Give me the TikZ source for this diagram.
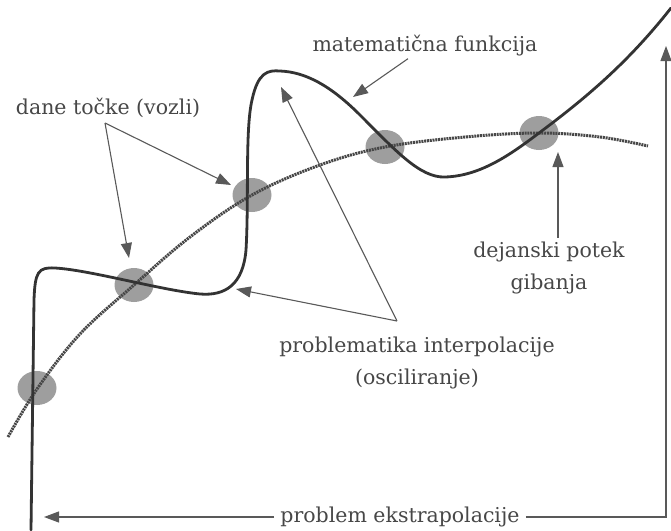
\documentclass[tikz,border=0pt]{standalone}
\usepackage{fontspec}
\setmainfont{DejaVu Serif}
\usepackage{xcolor}
\usepackage{tikz}
\usetikzlibrary{arrows.meta,positioning,shapes.geometric}

\begin{document}
\begin{tikzpicture}[x=1pt,y=-1pt,
  lbl/.style={text=black!72,font=\fontsize{20.5}{32}\selectfont,align=center,inner sep=2pt},
  vozel/.style={ellipse,fill=black!38,minimum width=39pt,minimum height=34pt,inner sep=0pt},
  pointer/.style={-{Triangle[length=15pt,width=11pt]},black!65,line width=1.1pt},
  funkcija/.style={black!80,line width=2.8pt,line cap=round},
  gibanje/.style={black!72,line width=3pt,dash pattern=on 2pt off 0.8pt}]
  \useasboundingbox (0,0) rectangle (671,530);
  % given points (knots)
  \node[vozel] (k1) at (37,388) {};
  \node[vozel] (k2) at (134,285) {};
  \node[vozel] (k3) at (252,195) {};
  \node[vozel] (k4) at (385,147) {};
  \node[vozel] (k5) at (539,133) {};
  % actual motion
  \draw[gibanje] plot[smooth,tension=0.6] coordinates {(8,437) (37,389) (80,334) (134,285) (190,237) (252,195) (320,165) (385,147) (465,137) (539,133) (600,137) (648,146)};
  % mathematical function
  \draw[funkcija] (31,530) -- (34,300)
    .. controls (35,272) and (38,267) .. (55,268)
    .. controls (90,270) and (160,290) .. (200,294)
    .. controls (225,296) and (243,285) .. (246,250)
    .. controls (249,200) and (245,130) .. (252,100)
    .. controls (258,72) and (268,70) .. (280,71)
    .. controls (305,72) and (330,85) .. (360,115)
    .. controls (395,150) and (420,178) .. (445,177)
    .. controls (480,176) and (510,155) .. (539,133)
    .. controls (590,95) and (630,60) .. (671,8);
  % labels
  \node[lbl] (funk) at (425,46) {matematična funkcija};
  \node[lbl] (vozli) at (108,108) {dane točke (vozli)};
  \node[lbl] (potek) at (549,268) {dejanski potek\\gibanja};
  \node[lbl] (interp) at (417,363) {problematika interpolacije\\(osciliranje)};
  \node[lbl] (ekstra) at (400,517) {problem ekstrapolacije};
  % arrow ends
  \coordinate (tFunk) at (353,97);
  \coordinate (tK3) at (231,185);
  \coordinate (tK2) at (129,258);
  \coordinate (tPotek) at (558,152);
  \coordinate (iSrc) at (397,321);
  \coordinate (tPeak) at (281,87);
  \coordinate (tDip) at (236,289);
  \coordinate (tLeft) at (44,517);
  \coordinate (tRight) at (666,46);
  % arrows
  \draw[pointer] ([xshift=-17pt]funk.south) -- (tFunk);
  \draw[pointer] ([xshift=-3pt,yshift=-3pt]vozli.south) -- (tK3);
  \draw[pointer] ([xshift=-3pt,yshift=-3pt]vozli.south) -- (tK2);
  \draw[pointer] ([xshift=9pt,yshift=2pt]potek.north) -- (tPotek);
  \draw[pointer] (iSrc) -- (tPeak);
  \draw[pointer] (iSrc) -- (tDip);
  \draw[pointer] ([xshift=-4pt]ekstra.west) -- (tLeft);
  \draw[pointer] ([xshift=4pt]ekstra.east) -| (tRight);
\end{tikzpicture}
\end{document}
